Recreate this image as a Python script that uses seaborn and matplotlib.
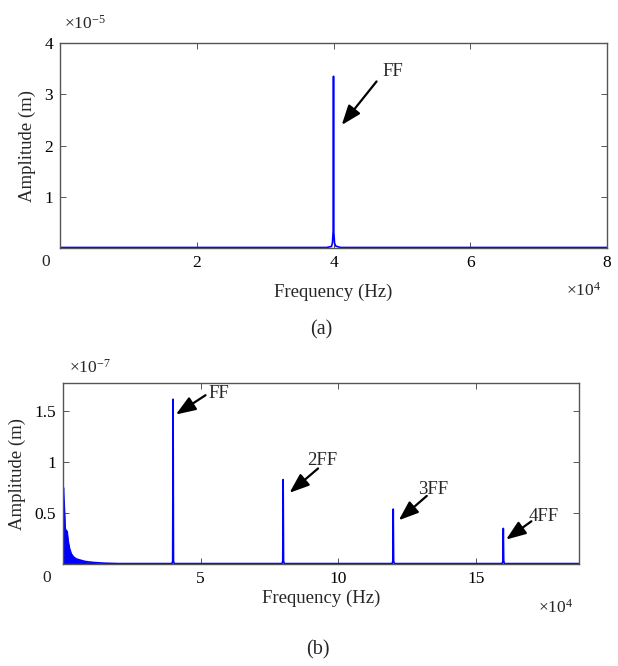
import numpy as np
import pandas as pd
import matplotlib
matplotlib.use("Agg")
import matplotlib.pyplot as plt
import seaborn as sns

# values
# (a) amplitudes in 1e-5 m, (b) amplitudes in 1e-7 m, frequencies in Hz
a_freq = [0, 39000, 39700, 39850, 39950, 40000, 40050, 40150, 40300, 41000, 80000]
a_amp = [0.01, 0.01, 0.03, 0.1, 0.33, 3.35, 0.3, 0.1, 0.04, 0.01, 0.01]
a_labels = ['FF']
a_label_pos = [(48700, 3.45)]
a_arrow_tail = [(46300, 3.25)]
a_arrow_head = [(41200, 2.4)]

low_freq = [0, 150, 300, 500, 800, 1100, 1500, 1900, 2400, 3000, 3800, 4800, 6000, 8000, 11000, 15000, 20000, 187500]
low_amp = [0.65, 0.75, 0.65, 0.55, 0.35, 0.33, 0.32, 0.22, 0.15, 0.1, 0.07, 0.05, 0.04, 0.025, 0.015, 0.008, 0.004, 0.004]
harm_freq = [40000, 80000, 120000, 160000]
harm_amp = [1.62, 0.83, 0.54, 0.35]
harm_labels = ['FF', '2FF', '3FF', '4FF']
harm_label_pos = [(56700, 1.68), (94000, 1.02), (134500, 0.73), (174500, 0.47)]
harm_arrow_tail = [(51800, 1.66), (92700, 0.94), (132200, 0.67), (170200, 0.42)]
harm_arrow_head = [(41000, 1.47), (82300, 0.7), (122000, 0.43), (161000, 0.24)]

sns.set_theme(style='ticks')
plt.rcParams['font.family'] = ['Liberation Serif', 'DejaVu Serif']
plt.rcParams['mathtext.fontset'] = 'custom'
plt.rcParams['mathtext.rm'] = 'Liberation Serif'
plt.rcParams['mathtext.it'] = 'Liberation Serif:italic'
plt.rcParams['xtick.direction'] = 'in'
plt.rcParams['ytick.direction'] = 'in'

blue = '#0000ff'
fs = 12.5
lfs = 13.5

fig = plt.figure(figsize=(6.18, 6.66), dpi=100)
ax1 = fig.add_axes([60 / 618, 1 - 248 / 666, 547 / 618, 205 / 666])
ax2 = fig.add_axes([63 / 618, 1 - 564 / 666, 516 / 618, 181 / 666])

arrow_props = dict(arrowstyle='-|>,head_length=0.8,head_width=0.3',
                   color='black', lw=1.6, mutation_scale=15, shrinkA=0, shrinkB=0)


def style_axes(ax, xpad):
    for s in ax.spines.values():
        s.set_color('#555555')
        s.set_linewidth(1.0)
    ax.tick_params(which='both', top=True, right=True, length=4, width=0.7,
                   color='#555555', labelsize=fs, labelcolor='black', pad=5)
    ax.set_xlabel('Frequency (Hz)', fontsize=lfs, labelpad=xpad)
    ax.set_ylabel('Amplitude (m)', fontsize=lfs, labelpad=6)


# (a)
df_a = pd.DataFrame({'freq': a_freq, 'amp': a_amp})
sns.lineplot(data=df_a, x='freq', y='amp', ax=ax1, color=blue, lw=1.2, estimator=None)
ax1.set_xlim(0, 80000)
ax1.set_ylim(0, 4)
ax1.set_xticks([20000, 40000, 60000, 80000])
ax1.set_xticklabels(['2', '4', '6', '8'])
ax1.set_yticks([1, 2, 3, 4])
ax1.set_yticklabels(['1', '2', '3', '4'])
style_axes(ax1, 9)
ax1.text(-0.026, -0.07, '0', transform=ax1.transAxes, ha='center', va='center', fontsize=fs)
ax1.text(0.008, 1.05, r'$\times10^{-5}$', transform=ax1.transAxes, ha='left', va='bottom', fontsize=fs)
ax1.text(0.925, -0.21, r'$\times10^{4}$', transform=ax1.transAxes, ha='left', va='center', fontsize=fs)
for lab, pos, tail, head in zip(a_labels, a_label_pos, a_arrow_tail, a_arrow_head):
    ax1.text(pos[0], pos[1], lab, ha='center', va='center', fontsize=lfs)
    ax1.annotate('', xy=head, xytext=tail, arrowprops=arrow_props)
fig.text(321 / 618, 1 - 330 / 666, '(a)', ha='center', va='center', fontsize=lfs + 1)

# (b)
spec_freq = list(low_freq)
spec_amp = list(low_amp)
for f, a in zip(harm_freq, harm_amp):
    spec_freq += [f - 400, f - 150, f, f + 150, f + 400]
    spec_amp += [0.004, 0.03, a, 0.03, 0.004]
df_b = pd.DataFrame({'freq': spec_freq, 'amp': spec_amp}).sort_values('freq')
sns.lineplot(data=df_b, x='freq', y='amp', ax=ax2, color=blue, lw=1.2, estimator=None)
ax2.fill_between(low_freq, low_amp, color=blue, lw=0)
ax2.set_xlim(0, 187500)
ax2.set_ylim(0, 1.78)
ax2.set_xticks([50000, 100000, 150000])
ax2.set_xticklabels(['5', '10', '15'])
ax2.set_yticks([0.5, 1, 1.5])
ax2.set_yticklabels(['0.5', '1', '1.5'])
style_axes(ax2, 2)
ax2.text(-0.031, -0.075, '0', transform=ax2.transAxes, ha='center', va='center', fontsize=fs)
ax2.text(0.012, 1.035, r'$\times10^{-7}$', transform=ax2.transAxes, ha='left', va='bottom', fontsize=fs)
ax2.text(0.92, -0.24, r'$\times10^{4}$', transform=ax2.transAxes, ha='left', va='center', fontsize=fs)
for lab, pos, tail, head in zip(harm_labels, harm_label_pos, harm_arrow_tail, harm_arrow_head):
    ax2.text(pos[0], pos[1], lab, ha='center', va='center', fontsize=lfs)
    ax2.annotate('', xy=head, xytext=tail, arrowprops=arrow_props)
fig.text(318 / 618, 1 - 650 / 666, '(b)', ha='center', va='center', fontsize=lfs + 1)

fig.savefig('out.png', dpi=100, facecolor='white')
